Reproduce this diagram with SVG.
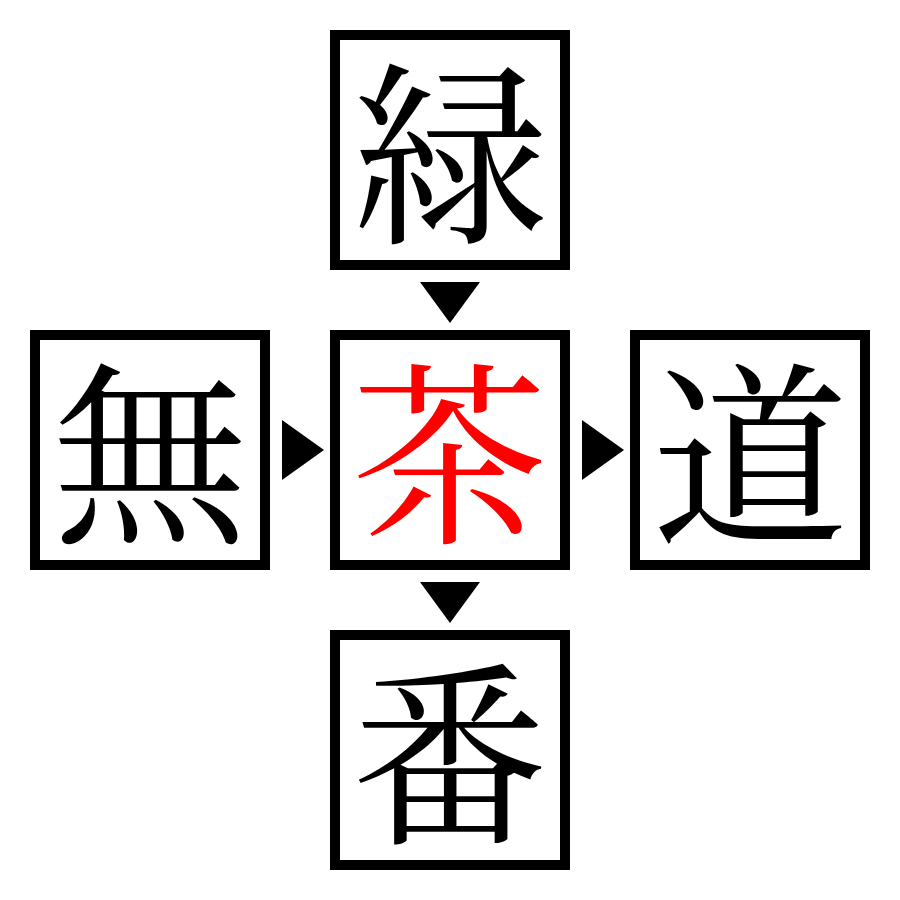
<svg xmlns="http://www.w3.org/2000/svg" width="900" height="900" viewBox="0 0 900 900">
<style>
.box{fill:#fff;stroke:#000;stroke-width:10}
.ch{font-family:"Noto Serif CJK JP","Noto Sans CJK JP",serif;font-size:196px;text-anchor:middle;dominant-baseline:central;fill:#000}
.red{fill:#ff0000}
.arr{fill:#000}
</style>
<rect width="900" height="900" fill="#fff"/>
<g id="n-top"><rect class="box" x="335" y="35" width="230" height="230"/><text class="ch" x="450" y="143">緑</text></g>
<g id="n-left"><rect class="box" x="35" y="335" width="230" height="230"/><text class="ch" x="150" y="443">無</text></g>
<g id="n-center"><rect class="box" x="335" y="335" width="230" height="230"/><text class="ch red" x="450" y="443">茶</text></g>
<g id="n-right"><rect class="box" x="635" y="335" width="230" height="230"/><text class="ch" x="750" y="443">道</text></g>
<g id="n-bottom"><rect class="box" x="335" y="635" width="230" height="230"/><text class="ch" x="450" y="743">番</text></g>
<g id="connectors">
<polygon class="arr" points="420,282 480,282 450,323"/>
<polygon class="arr" points="282,420 282,480 324,450"/>
<polygon class="arr" points="582,420 582,480 624,450"/>
<polygon class="arr" points="420,582 480,582 450,623"/>
</g>
</svg>
